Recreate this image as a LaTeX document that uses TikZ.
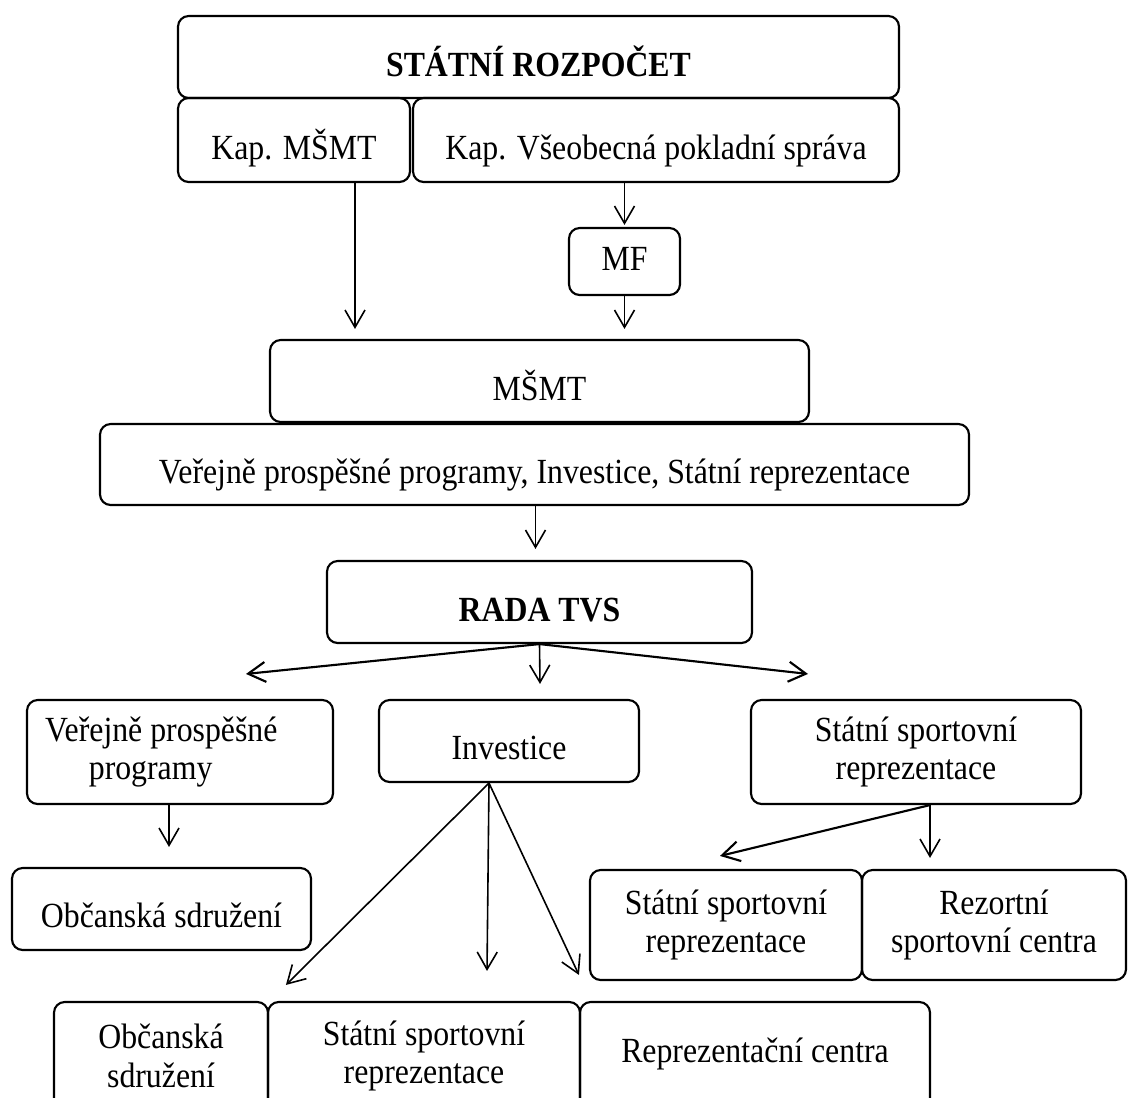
\documentclass[tikz,border=0pt]{standalone}
\usepackage{fontspec}
\setmainfont[FakeStretch=0.9]{Liberation Serif}
\usetikzlibrary{arrows.meta,calc}
\newcommand\lowtx[2][14.5pt]{\raisebox{-#1}[0pt][0pt]{#2}}
\begin{document}
\begin{tikzpicture}[x=0.75pt,y=-0.75pt,
  box/.style={draw, line width=1.6pt, rounded corners=8pt, align=center, inner sep=0pt,
              font=\fontsize{26.5}{29}\selectfont},
  sz/.style 2 args={minimum width=#1*0.75pt, minimum height=#2*0.75pt},
  arr/.style={-{Straight Barb[length=13pt,width=15pt]}, line width=1.2pt},
  arrb/.style={arr, line width=1.6pt}]
\useasboundingbox (0,0) rectangle (1128,1097);
\fill[white] (0,0) rectangle (1128,1097);
\clip (0,0) rectangle (1128,1097);

\node[box, sz={721}{82}] (sr) at (538.5,57) {\lowtx{\textbf{STÁTNÍ ROZPOČET}}};
\node[box, sz={232}{84}] (kmsmt) at (294,140) {\lowtx{Kap. MŠMT}};
\node[box, sz={486}{84}] (kvps) at (656,140) {\lowtx{Kap. Všeobecná pokladní správa}};
\node[box, sz={111}{67}] (mf) at (624.5,261.5) {\lowtx[7pt]{MF}};
\node[box, sz={539}{82}] (msmt) at (539.5,381) {\lowtx{MŠMT}};
\node[box, sz={869}{81}] (vall) at (534.5,464.5) {\lowtx{Veřejně prospěšné programy, Investice, Státní reprezentace}};
\node[box, sz={425}{82}] (rada) at (539.5,602) {\lowtx{\textbf{RADA TVS}}};
\node[box, sz={306}{104}] (vpp) at (180,752) {Veřejně prospěšné\hspace*{28pt}\\programy\hspace*{44pt}};
\node[box, sz={260}{82}] (inv) at (509,741) {\lowtx[13.5pt]{Investice}};
\node[box, sz={330}{104}] (ssr1) at (916,752) {Státní sportovní\\reprezentace};
\node[box, sz={299}{82}] (os1) at (161.5,909) {\lowtx[13.5pt]{Občanská sdružení}};
\node[box, sz={272}{110}] (ssr2) at (726,925) {Státní sportovní\\reprezentace};
\node[box, sz={264}{110}] (rsc) at (994,925) {Rezortní\\sportovní centra};
\node[box, sz={214}{108}] (os2) at (161,1056) {Občanská\\sdružení};
\node[box, sz={312}{108}] (ssr3) at (424,1056) {Státní sportovní\\reprezentace};
\node[box, sz={350}{108}] (rc) at (755,1056) {\lowtx[5pt]{Reprezentační centra}};

\draw[arr] ($(kmsmt.south)+(61,0)$) -- ($(msmt.north)+(-184.5,-10)$);
\draw[arr] (kvps.south -| mf.north) -- ($(mf.north)+(0,-2)$);
\draw[arr] (mf.south) -- ($(mf.south |- msmt.north)+(0,-10)$);
\draw[arr] ($(vall.south)+(1,0)$) -- ($(vall.south |- rada.north)+(1,-11)$);
\draw[arrb] (rada.south) -- ($(vpp.north)+(66,-25)$);
\draw[arr] (rada.south) -- ($(inv.north)+(31,-15)$);
\draw[arrb] (rada.south) -- ($(ssr1.north)+(-108,-25)$);
\draw[arr] ($(vpp.south)+(-11,0)$) -- ($(os1.north)+(7.5,-20)$);
\draw[arr] ($(inv.south)+(-20,0)$) -- ($(ssr3.north west)+(19,-16)$);
\draw[arr] ($(inv.south)+(-20,0)$) -- ($(ssr3.north)+(63,-30)$);
\draw[arr] ($(inv.south)+(-20,0)$) -- ($(rc.north west)+(0,-26)$);
\draw[arrb] ($(ssr1.south)+(14,0)$) -- ($(ssr2.north)+(-6,-13)$);
\draw[arr] ($(ssr1.south)+(14,0)$) -- ($(rsc.north)+(-64,-11)$);
\end{tikzpicture}
\end{document}
